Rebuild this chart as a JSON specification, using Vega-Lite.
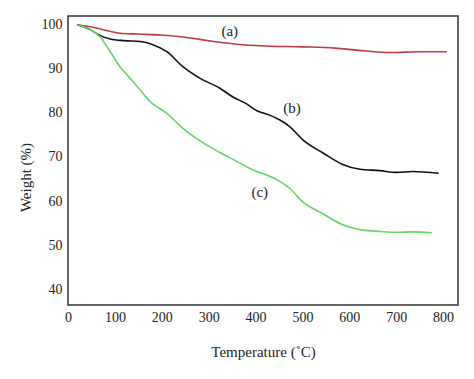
{
  "$schema": "https://vega.github.io/schema/vega-lite/v6.json",
  "autosize": {"type": "none"},
  "width": 390,
  "height": 289,
  "padding": {"left": 68, "top": 16, "right": 16, "bottom": 74},
  "background": "white",
  "config": {
    "view": {"stroke": "#333333", "strokeWidth": 1.5},
    "font": "Liberation Serif"
  },
  "datasets": {
    "curves": [
      {"t": 20, "w": 100, "s": "a"},
      {"t": 50, "w": 99.5, "s": "a"},
      {"t": 111, "w": 98.1, "s": "a"},
      {"t": 150, "w": 97.9, "s": "a"},
      {"t": 196, "w": 97.7, "s": "a"},
      {"t": 240, "w": 97.3, "s": "a"},
      {"t": 281, "w": 96.7, "s": "a"},
      {"t": 320, "w": 96.1, "s": "a"},
      {"t": 360, "w": 95.6, "s": "a"},
      {"t": 420, "w": 95.2, "s": "a"},
      {"t": 500, "w": 95.0, "s": "a"},
      {"t": 570, "w": 94.7, "s": "a"},
      {"t": 620, "w": 94.2, "s": "a"},
      {"t": 690, "w": 93.7, "s": "a"},
      {"t": 750, "w": 93.9, "s": "a"},
      {"t": 808, "w": 93.9, "s": "a"},
      {"t": 20, "w": 100, "s": "b"},
      {"t": 47, "w": 98.9, "s": "b"},
      {"t": 68, "w": 97.6, "s": "b"},
      {"t": 90, "w": 96.8, "s": "b"},
      {"t": 120, "w": 96.4, "s": "b"},
      {"t": 154, "w": 96.2, "s": "b"},
      {"t": 181, "w": 95.5, "s": "b"},
      {"t": 211, "w": 93.9, "s": "b"},
      {"t": 245, "w": 90.5, "s": "b"},
      {"t": 281, "w": 87.9, "s": "b"},
      {"t": 324, "w": 85.6, "s": "b"},
      {"t": 352, "w": 83.6, "s": "b"},
      {"t": 380, "w": 82.1, "s": "b"},
      {"t": 403, "w": 80.5, "s": "b"},
      {"t": 430, "w": 79.5, "s": "b"},
      {"t": 452, "w": 78.4, "s": "b"},
      {"t": 473, "w": 76.9, "s": "b"},
      {"t": 501, "w": 73.9, "s": "b"},
      {"t": 544, "w": 70.9, "s": "b"},
      {"t": 586, "w": 68.3, "s": "b"},
      {"t": 623, "w": 67.2, "s": "b"},
      {"t": 665, "w": 66.9, "s": "b"},
      {"t": 701, "w": 66.5, "s": "b"},
      {"t": 736, "w": 66.7, "s": "b"},
      {"t": 791, "w": 66.3, "s": "b"},
      {"t": 20, "w": 100, "s": "c"},
      {"t": 47, "w": 98.9, "s": "c"},
      {"t": 68, "w": 97.3, "s": "c"},
      {"t": 90, "w": 93.9, "s": "c"},
      {"t": 111, "w": 90.5, "s": "c"},
      {"t": 132, "w": 87.9, "s": "c"},
      {"t": 154, "w": 85.2, "s": "c"},
      {"t": 175, "w": 82.6, "s": "c"},
      {"t": 211, "w": 79.9, "s": "c"},
      {"t": 245, "w": 76.5, "s": "c"},
      {"t": 281, "w": 73.7, "s": "c"},
      {"t": 324, "w": 71.0, "s": "c"},
      {"t": 360, "w": 69.0, "s": "c"},
      {"t": 388, "w": 67.4, "s": "c"},
      {"t": 446, "w": 64.8, "s": "c"},
      {"t": 473, "w": 62.9, "s": "c"},
      {"t": 501, "w": 59.8, "s": "c"},
      {"t": 544, "w": 57.1, "s": "c"},
      {"t": 586, "w": 54.6, "s": "c"},
      {"t": 629, "w": 53.4, "s": "c"},
      {"t": 665, "w": 53.1, "s": "c"},
      {"t": 700, "w": 52.9, "s": "c"},
      {"t": 736, "w": 53.0, "s": "c"},
      {"t": 776, "w": 52.8, "s": "c"}
    ],
    "labels": [
      {"t": 345, "w": 98.5, "txt": "(a)"},
      {"t": 478, "w": 81.1, "txt": "(b)"},
      {"t": 409, "w": 62.0, "txt": "(c)"}
    ]
  },
  "layer": [
    {
      "data": {"name": "curves"},
      "mark": {"type": "line", "strokeWidth": 1.6, "interpolate": "monotone"},
      "encoding": {
        "x": {
          "field": "t", "type": "quantitative",
          "scale": {"domain": [0, 832], "nice": false, "zero": false},
          "axis": {
            "values": [0, 100, 200, 300, 400, 500, 600, 700, 800],
            "title": "Temperature (˚C)",
            "grid": false, "domain": false, "ticks": false,
            "labelFont": "Liberation Serif", "labelFontSize": 14, "labelColor": "#222222",
            "labelPadding": 5, "labelFlush": false,
            "titleFont": "Liberation Serif", "titleFontSize": 15, "titleFontWeight": "normal",
            "titleColor": "#222222", "titlePadding": 20
          }
        },
        "y": {
          "field": "w", "type": "quantitative",
          "scale": {"domain": [36.4, 102], "nice": false, "zero": false},
          "axis": {
            "values": [40, 50, 60, 70, 80, 90, 100],
            "title": "Weight (%)",
            "grid": false, "domain": false, "ticks": false,
            "labelFont": "Liberation Serif", "labelFontSize": 14, "labelColor": "#222222",
            "labelPadding": 6,
            "titleFont": "Liberation Serif", "titleFontSize": 15, "titleFontWeight": "normal",
            "titleColor": "#222222", "titleX": -43, "titleY": 161,
            "titleAngle": -90, "titleAlign": "center", "titleBaseline": "middle"
          }
        },
        "color": {
          "field": "s", "type": "nominal",
          "scale": {"domain": ["a", "b", "c"], "range": ["#c0393f", "#111111", "#5fd65f"]},
          "legend": null
        }
      }
    },
    {
      "data": {"name": "labels"},
      "mark": {"type": "text", "font": "Liberation Serif", "fontSize": 15, "fill": "#222222"},
      "encoding": {
        "x": {"field": "t", "type": "quantitative"},
        "y": {"field": "w", "type": "quantitative"},
        "text": {"field": "txt"}
      }
    }
  ]
}
